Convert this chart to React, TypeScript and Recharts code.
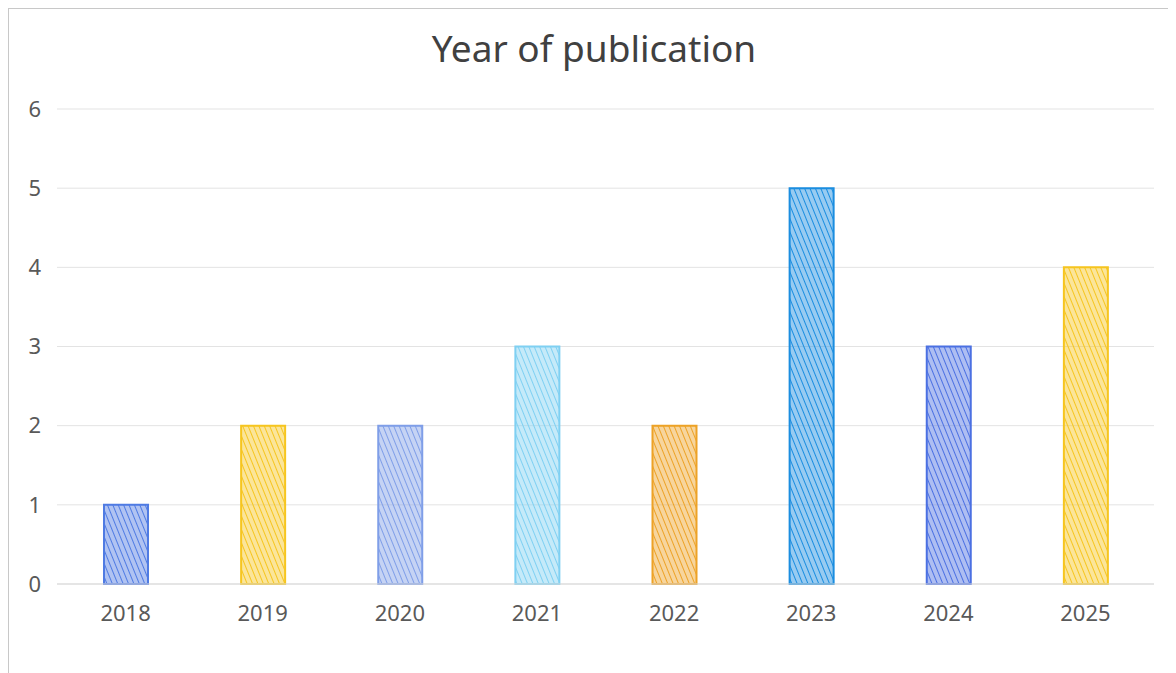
import React from "react";
import { BarChart, Bar, XAxis, YAxis, CartesianGrid, Cell } from "recharts";

const years = ["2018", "2019", "2020", "2021", "2022", "2023", "2024", "2025"];
const counts = [1, 2, 2, 3, 2, 5, 3, 4];
const yTicks = [0, 1, 2, 3, 4, 5, 6];

const barColors = ["#4f7be3", "#f6c51f", "#7f9ee8", "#7fd0f2", "#eda226", "#1a8de0", "#4b70e2", "#f6c51f"];

const data = years.map((y, i) => ({ year: y, count: counts[i] }));

export default function App() {
  return (
    <div
      style={{
        position: "relative",
        width: 1168,
        height: 665,
        borderLeft: "1px solid #c8c8c8",
        borderTop: "1px solid #c8c8c8",
        background: "#fff",
        fontFamily: "'Noto Sans', sans-serif",
      }}
    >
      <div
        style={{
          position: "absolute",
          left: 0,
          width: 1170,
          top: 13,
          textAlign: "center",
          fontSize: 37,
          color: "#404040",
          fontFamily: "'Noto Sans', sans-serif",
        }}
      >
        Year of publication
      </div>
      <BarChart
        width={1167}
        height={664}
        data={data}
        margin={{ top: 100, right: 22, bottom: 59, left: 0 }}
        barCategoryGap={0}
      >
        <defs>
          {barColors.map((c, i) => (
            <pattern
              key={i}
              id={`hatch-${i}`}
              patternUnits="userSpaceOnUse"
              width={5}
              height={5}
              patternTransform="rotate(-22)"
            >
              <rect width={5} height={5} fill={c} fillOpacity={0.45} />
              <line x1={0} y1={0} x2={0} y2={5} stroke={c} strokeWidth={2} />
            </pattern>
          ))}
        </defs>
        <CartesianGrid vertical={false} stroke="#e3e3e3" />
        <XAxis
          dataKey="year"
          axisLine={{ stroke: "#d9d9d9" }}
          tickLine={false}
          tick={{ fontSize: 22, fill: "#595959" }}
          tickMargin={15}
          height={30}
        />
        <YAxis
          domain={[0, 6]}
          ticks={yTicks}
          axisLine={false}
          tickLine={false}
          tick={{ fontSize: 22, fill: "#595959" }}
          tickMargin={10}
          width={48}
        />
        <Bar dataKey="count" barSize={44} isAnimationActive={false}>
          {data.map((d, i) => (
            <Cell key={d.year} fill={`url(#hatch-${i})`} stroke={barColors[i]} strokeWidth={2} />
          ))}
        </Bar>
      </BarChart>
    </div>
  );
}
